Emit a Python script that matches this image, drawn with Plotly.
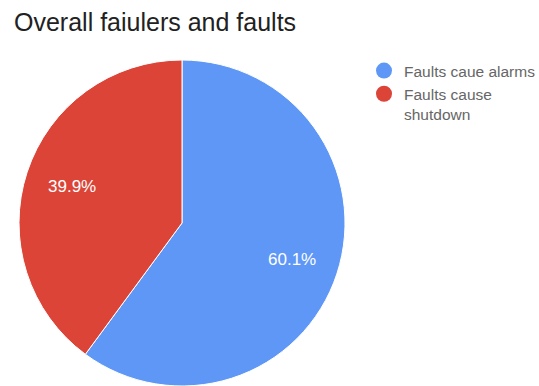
import math
import plotly.graph_objects as go

# Share of faults by consequence
labels = ["Faults caue alarms", "Faults cause shutdown"]
legend_names = ["Faults caue alarms", "Faults cause<br>shutdown"]
values = [60.1, 39.9]
colors = ["#5e97f6", "#db4437"]

W, H = 539, 386
cx, cy, r = 182, 223, 163  # pie centre / radius in px
label_k = 0.71            # percent labels sit at this fraction of the radius

FONT = "Liberation Sans, Arial, sans-serif"

fig = go.Figure()

fig.add_trace(go.Pie(
    labels=labels,
    values=values,
    sort=False,
    direction="clockwise",
    rotation=0,
    marker=dict(colors=colors, line=dict(color="white", width=1)),
    textinfo="none",
    domain=dict(x=[(cx - r) / W, (cx + r) / W],
                y=[max(0.0, (H - cy - r) / H), min(1.0, (H - cy + r) / H)]),
    showlegend=False,
    hoverinfo="label+percent",
))

# Percent labels placed on each slice's bisector
total = sum(values)
cum = 0.0
for v in values:
    theta = 2 * math.pi * (cum + v / 2) / total
    cum += v
    px = cx + label_k * r * math.sin(theta)
    py = cy - label_k * r * math.cos(theta)
    fig.add_annotation(
        x=px / W, y=1 - py / H, xref="paper", yref="paper",
        text=f"{100 * v / total:.1f}%", showarrow=False,
        xanchor="center", yanchor="middle",
        font=dict(family=FONT, size=17, color="white"),
    )

# Legend entries with round markers
for name, col in zip(legend_names, colors):
    fig.add_trace(go.Scatter(
        x=[None], y=[None], mode="markers", name=name,
        marker=dict(symbol="circle", size=16, color=col),
        showlegend=True,
    ))

fig.update_layout(
    width=W, height=H,
    margin=dict(l=0, r=0, t=0, b=0, autoexpand=False),
    paper_bgcolor="white", plot_bgcolor="white",
    title=dict(
        text="Overall faiulers and faults",
        x=14 / W, xanchor="left", xref="container",
        y=1 - 22 / H, yanchor="middle", yref="container",
        font=dict(family=FONT, size=25, color="#212121"),
    ),
    xaxis=dict(visible=False),
    yaxis=dict(visible=False),
    legend=dict(
        x=364 / W, xanchor="left", y=1 - 54 / H, yanchor="top",
        font=dict(family=FONT, size=15.5, color="#666666"),
        bgcolor="rgba(0,0,0,0)", tracegroupgap=0, itemsizing="trace",
        valign="top",
    ),
)

fig.write_html("out.html")
